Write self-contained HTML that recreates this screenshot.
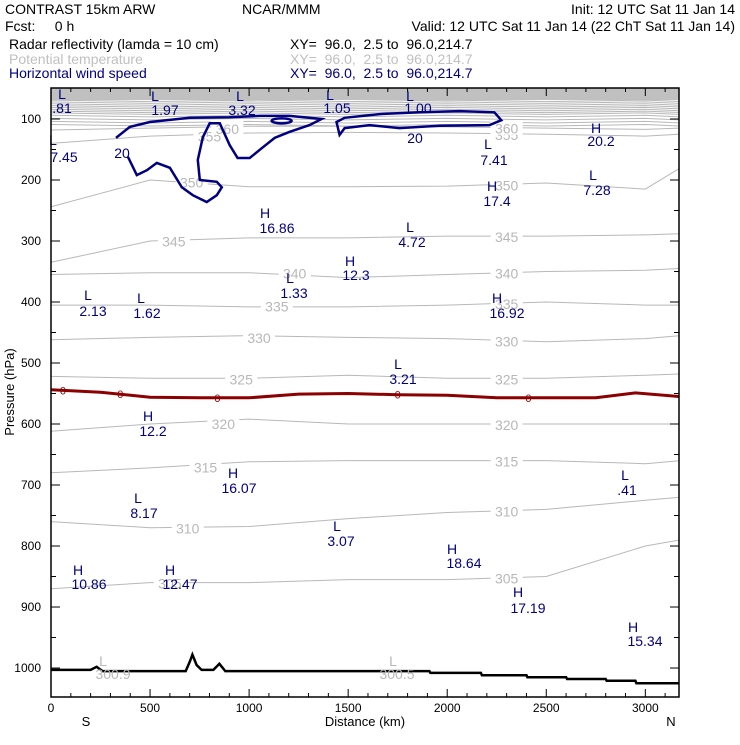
<!DOCTYPE html>
<html><head><meta charset="utf-8">
<style>
body{margin:0;background:#fff;}
svg text{font-family:"Liberation Sans",sans-serif;}
</style></head>
<body>
<svg id="chart" width="740" height="740" xmlns="http://www.w3.org/2000/svg">
<g font-size="14">
<text x="5" y="14">CONTRAST 15km ARW</text>
<text x="242" y="14">NCAR/MMM</text>
<text x="735" y="14" text-anchor="end">Init: 12 UTC Sat 11 Jan 14</text>
<text x="5" y="31" xml:space="preserve">Fcst:     0 h</text>
<text x="735" y="31" text-anchor="end">Valid: 12 UTC Sat 11 Jan 14 (22 ChT Sat 11 Jan 14)</text>
<text x="9" y="49">Radar reflectivity (lamda = 10 cm)</text>
<text x="290" y="49" xml:space="preserve">XY=  96.0,  2.5 to  96.0,214.7</text>
<text x="9" y="64" fill="#c0c0c0">Potential temperature</text>
<text x="290" y="64" fill="#c0c0c0" xml:space="preserve">XY=  96.0,  2.5 to  96.0,214.7</text>
<text x="9" y="78" fill="#000080">Horizontal wind speed</text>
<text x="290" y="78" fill="#000080" xml:space="preserve">XY=  96.0,  2.5 to  96.0,214.7</text>
</g>
<defs><clipPath id="pc"><rect x="51" y="88" width="628" height="609"/></clipPath></defs>
<g id="plot" clip-path="url(#pc)"></g>
<g id="labels" font-size="14"></g>
<g id="axes"></g>
</svg>
<script>
// ---- data ----
const thetaLevels=[305,310,315,320,325,330,335,340,345,350,355,360];
const thetaKm=[0,500,1000,1500,2000,2500,3000,3177];
const thetaP=[
[870,860,860,855,855,850,800,790],
[760,770,768,755,745,740,725,720],
[680,672,662,660,660,660,665,660],
[612,600,592,600,600,600,600,600],
[522,525,525,520,525,525,520,518],
[462,458,455,458,460,465,460,455],
[405,405,408,408,405,400,405,405],
[355,352,352,360,355,350,348,345],
[335,300,295,295,292,292,290,288],
[244,200,211,211,210,205,215,180],
[140,128,123,122,123,125,128,125],
[118,115,112,112,113,115,117,115]];
const upperP=[70,73,76,79,82,85,88,91,95,100,105,110];
const zeroKm=[0,250,500,750,1000,1250,1500,1750,2000,2250,2500,2750,2950,3177];
const zeroP=[544,548,556,557,557,551,550,552,553,557,557,557,549,555];
const wind1Km=[328,398,499,700,902,1053,1205,1366,1305,1205,1129,1063,1003,942,902,852,801,766,741,751,837,862,837,786,716,660,600,534,484,433,388];
const wind1P=[131,113,105,98,97,95,95,100,110,121,131,148,164,164,143,107,107,130,167,200,203,212,225,236,225,212,180,172,184,192,162];
const wind2Km=[1457,1441,1482,1658,1860,2061,2238,2273,2213,1961,1759,1608,1482,1457];
const wind2P=[126,105,98,92,89,87,89,102,110,111,115,110,115,126];
const terrKm=[0,200,230,260,680,700,714,735,760,820,850,880,1910,1915,2170,2175,2400,2405,2600,2605,2800,2805,2950,2955,3177];
const terrP=[1003,1003,998,1005,1005,990,978,995,1003,1003,993,1005,1005,1008,1008,1012,1012,1015,1015,1018,1018,1021,1021,1025,1025];
const xTicks=[0,500,1000,1500,2000,2500,3000];
const yTicks=[100,200,300,400,500,600,700,800,900,1000];
// ---- scales ----
const X0=51,X1=679,Y0=88,Y1=697,KMAX=3170,PTOP=49.2,PBOT=1047.5;
const sx=k=>X0+(k/KMAX)*(X1-X0);
const sy=p=>Y0+(p-PTOP)/(PBOT-PTOP)*(Y1-Y0);
const NS="http://www.w3.org/2000/svg";
const plot=document.getElementById('plot');
function mk(t,a,parent){const e=document.createElementNS(NS,t);for(const k in a)e.setAttribute(k,a[k]);parent.appendChild(e);return e;}
function pathD(ks,ps,close){let d='';ks.forEach((k,i)=>{d+=(i?'L':'M')+sx(k).toFixed(1)+','+sy(ps[i]).toFixed(1);});return d+(close?'Z':'');}
// top grey band
const band=mk('rect',{x:X0,y:Y0,width:X1-X0,height:sy(69)-Y0,fill:'#c0c0c0'},plot);


upperP.forEach(p=>{
 const e=mk('path',{d:pathD(thetaKm,thetaKm.map((k,i)=>p+(i%2?1.5:-1)),false),fill:'none',stroke:'#b8b8b8','stroke-width':1},plot);
 
 
});
thetaLevels.forEach((lv,j)=>{
 const e=mk('path',{d:pathD(thetaKm,thetaP[j],false),fill:'none',stroke:'#b8b8b8','stroke-width':1},plot);
 
 
 [600,2300].forEach((k,q)=>{
  const idx=Math.min(thetaKm.length-2,Math.floor(k/500));
  const f=(k-thetaKm[idx])/(thetaKm[idx+1]-thetaKm[idx]);
  const p=thetaP[j][idx]+f*(thetaP[j][idx+1]-thetaP[j][idx]);
  const bg=mk('rect',{x:sx(k+(q?0:j*90%700))-16,y:sy(p)-7,width:32,height:14,fill:'#fff'},plot);
  
  
  const t=mk('text',{x:sx(k+(q?0:j*90%700)),y:sy(p)+6,'text-anchor':'middle',fill:'#b8b8b8','font-size':14},plot);
  t.textContent=lv;
  
  
 });
});
// zero reflectivity contour
const z=mk('path',{d:pathD(zeroKm,zeroP,false),fill:'none',stroke:'#8b0000','stroke-width':3},plot);


[60,350,840,1750,2410].forEach(k=>{
 const i=Math.min(zeroKm.length-2,Math.floor(k/250));
 const p=zeroP[i]+(k-zeroKm[i])/(zeroKm[i+1]-zeroKm[i])*(zeroP[i+1]-zeroP[i]);
 const t=mk('text',{x:sx(k),y:sy(p)+4,'text-anchor':'middle',fill:'#8b0000','font-size':11},plot);
 t.textContent='0';
 
 
});
// wind contours
const w1=mk('path',{d:pathD(wind1Km,wind1P,false),fill:'none',stroke:'#000080','stroke-width':2.5},plot);


const w2=mk('path',{d:pathD(wind2Km,wind2P,true),fill:'none',stroke:'#000080','stroke-width':2.5},plot);


const w3=mk('ellipse',{cx:sx(1164),cy:sy(103),rx:10,ry:2.5,fill:'none',stroke:'#000080','stroke-width':2.5},plot);


// terrain
const tr=mk('path',{d:pathD(terrKm,terrP,false),fill:'none',stroke:'#000','stroke-width':2.5},plot);


// H/L labels
const hl=[['L','.81',62,94,62,108],['L','1.97',155,96,165,110],['L','3.32',240,96,242,110],['L','1.05',330,95,337,108],['L','1.00',410,96,418,108],['L','7.45',53,140,64,157],['','20',122,153,0,0],['','20',415,138,0,0],['H','20.2',596,128,601,141],['L','7.41',488,144,494,160],['L','7.28',593,175,597,190],['H','17.4',492,186,497,201],['H','16.86',265,213,277,228],['L','4.72',410,227,412,242],['H','12.3',350,261,356,275],['L','1.33',290,278,294,293],['L','2.13',88,295,93,311],['L','1.62',141,298,147,313],['H','16.92',497,298,507,313],['L','3.21',398,364,403,379],['H','12.2',148,416,153,431],['H','16.07',233,473,239,488],['L','.41',625,475,627,490],['L','8.17',138,498,144,513],['L','3.07',337,526,341,541],['H','18.64',452,549,464,563],['H','10.86',78,570,89,584],['H','12.47',170,570,180,584],['H','17.19',518,592,528,608],['H','15.34',633,627,645,641]];
const lg=document.getElementById('labels');
hl.forEach(h=>{
 if(h[0]){const a=mk('text',{x:h[2],y:h[3]+5,'text-anchor':'middle',fill:h[1]==='.81'||h[1]==='1.97'||h[1]==='3.32'||h[1]==='1.05'||h[1]==='1.00'?'#000080':'#000080'},lg);a.textContent=h[0];
 
 
 const b=mk('text',{x:h[4],y:h[5]+5,'text-anchor':'middle',fill:'#000080'},lg);b.textContent=h[1];
 
 }
 else{const b=mk('text',{x:h[2],y:h[3]+5,'text-anchor':'middle',fill:'#000080'},lg);b.textContent=h[1];
 
 }
});
[['L','300.9',103,661,113,674],['L','300.5',393,661,397,674]].forEach(h=>{
 const a=mk('text',{x:h[2],y:h[3]+5,'text-anchor':'middle',fill:'#b8b8b8'},lg);a.textContent=h[0];
 
 
 const b=mk('text',{x:h[4],y:h[5]+5,'text-anchor':'middle',fill:'#b8b8b8'},lg);b.textContent=h[1];
 
 
});
// axes
const ax=document.getElementById('axes');
const fr=mk('rect',{x:X0,y:Y0,width:X1-X0,height:Y1-Y0,fill:'none',stroke:'#000','stroke-width':1.5},ax);


for(let k=0;k<=3100;k+=100){
 const L=(k%500===0)?8:4;
 mk('line',{x1:sx(k),x2:sx(k),y1:Y1,y2:Y1-L,stroke:'#000'},ax);
 mk('line',{x1:sx(k),x2:sx(k),y1:Y0,y2:Y0+L,stroke:'#000'},ax);
}
xTicks.forEach(k=>{const t=mk('text',{x:sx(k),y:712,'text-anchor':'middle','font-size':12},ax);t.textContent=k;
 
 });
for(let p=100;p<=1000;p+=50){
 const L=(p%100===0)?9:5;
 mk('line',{x1:X0,x2:X0+L,y1:sy(p),y2:sy(p),stroke:'#000'},ax);
 mk('line',{x1:X1,x2:X1-L,y1:sy(p),y2:sy(p),stroke:'#000'},ax);
}
yTicks.forEach(p=>{const t=mk('text',{x:41,y:sy(p)+4,'text-anchor':'end','font-size':12},ax);t.textContent=p;
 
 });
const xt=mk('text',{x:365,y:726,'text-anchor':'middle','font-size':13},ax);xt.textContent='Distance (km)';


const sN=mk('text',{x:86,y:726,'text-anchor':'middle','font-size':13},ax);sN.textContent='S';


const nN=mk('text',{x:671,y:726,'text-anchor':'middle','font-size':13},ax);nN.textContent='N';


const yt=mk('text',{x:14,y:392,'text-anchor':'middle','font-size':13,transform:'rotate(-90 14 392)'},ax);yt.textContent='Pressure (hPa)';


</script>
</body></html>
